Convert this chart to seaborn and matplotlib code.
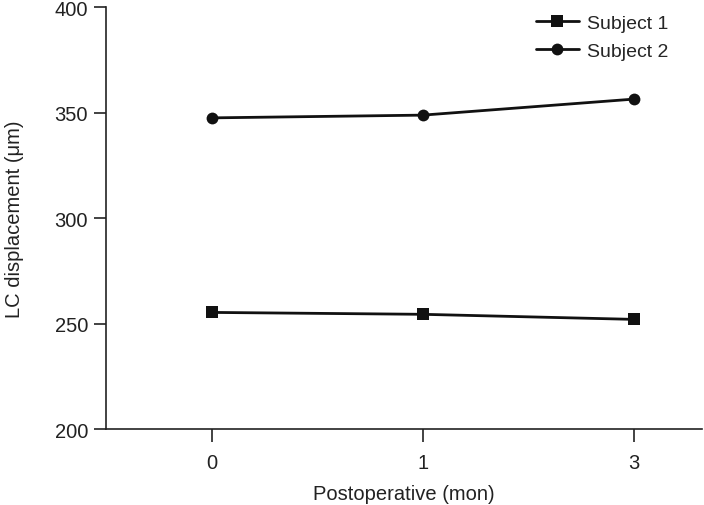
import matplotlib
matplotlib.use("Agg")
import matplotlib.pyplot as plt
import seaborn as sns
import pandas as pd

months = ["0", "1", "3"]
subject1 = [255.3, 254.4, 252.0]
subject2 = [347.5, 348.8, 356.4]
series_names = ["Subject 1", "Subject 2"]

sns.set_theme(style="ticks")
plt.rcParams["font.family"] = ["Liberation Sans", "DejaVu Sans"]

df = pd.DataFrame({
    "month": months * 2,
    "value": subject1 + subject2,
    "subject": [series_names[0]] * 3 + [series_names[1]] * 3,
})

fig = plt.figure(figsize=(7.04, 5.06), dpi=100)
ax = fig.add_axes([0.1506, 0.150, 0.846, 0.834])

sns.lineplot(data=df, x="month", y="value", hue="subject", style="subject",
             markers={"Subject 1": "s", "Subject 2": "o"}, dashes=False,
             palette={"Subject 1": "#111111", "Subject 2": "#111111"},
             markersize=8.5, linewidth=2.0, markeredgewidth=0, ax=ax)

ax.set_xlim(-0.5, 2.32)
ax.set_ylim(200, 400)
ax.set_yticks([200, 250, 300, 350, 400])
ax.set_xlabel("Postoperative (mon)", fontsize=14.5, color="#222222", labelpad=9)
ax.set_ylabel("LC displacement (\u03bcm)", fontsize=14.5, color="#222222", labelpad=22)
ax.tick_params(axis="both", labelsize=14.5, length=9, width=1.2, colors="#222222", direction="out")
ax.tick_params(axis="y", pad=4)
ax.tick_params(axis="x", pad=8)
for s in ["top", "right"]:
    ax.spines[s].set_visible(False)
for s in ["left", "bottom"]:
    ax.spines[s].set_linewidth(1.2)
    ax.spines[s].set_color("#222222")

leg = ax.legend(loc="upper right", bbox_to_anchor=(0.973, 1.025), frameon=False,
                fontsize=14, handlelength=2.2, handletextpad=0.4, labelspacing=0.55)

fig.savefig("out.png", dpi=100)
